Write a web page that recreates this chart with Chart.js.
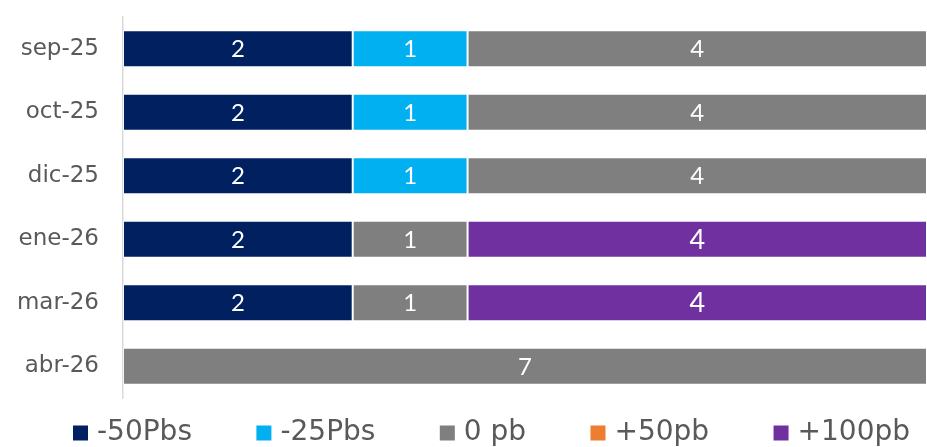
<!DOCTYPE html>
<html>
<head>
<meta charset="utf-8">
<script src="https://cdn.jsdelivr.net/npm/chart.js@4.4.1/dist/chart.umd.min.js"></script>
<style>
  html, body { margin: 0; padding: 0; background: #fff; }
  #wrap { width: 927px; height: 447px; position: relative; }
</style>
</head>
<body>
<div id="wrap"><canvas id="grafico"></canvas></div>
<script>
// fechas de reunion y votos por escenario
const labels = ["sep-25", "oct-25", "dic-25", "ene-26", "mar-26", "abr-26"];
const menos50 = [2, 2, 2, 2, 2, 0];
const menos25 = [1, 1, 1, 0, 0, 0];
const cero = [4, 4, 4, 1, 1, 7];
const mas50 = [0, 0, 0, 0, 0, 0];
const mas100 = [0, 0, 0, 4, 4, 0];

const fuenteEje = "'DejaVu Sans', sans-serif";
const fuenteNum = "Lato, 'Open Sans', sans-serif";

// escribe el valor dentro de cada segmento
const etiquetas = {
  id: "etiquetas",
  afterDatasetsDraw(chart) {
    const ctx = chart.ctx;
    ctx.save();
    ctx.fillStyle = "#ffffff";
    ctx.textAlign = "center";
    ctx.textBaseline = "middle";
    chart.data.datasets.forEach((ds, i) => {
      const meta = chart.getDatasetMeta(i);
      if (meta.hidden) return;
      ctx.font = (ds.tamLetra || 24) + "px " + fuenteNum;
      meta.data.forEach((bar, j) => {
        const v = ds.data[j];
        if (!v) return;
        const p = bar.getProps(["x", "y", "base"], true);
        ctx.fillText(v, (p.x + p.base) / 2, p.y + 1);
      });
    });
    ctx.restore();
  }
};

// leyenda abajo, repartida entre x=73 y x=910
const leyenda = {
  id: "leyenda",
  afterDraw(chart) {
    const ctx = chart.ctx;
    const ds = chart.data.datasets;
    ctx.save();
    ctx.font = "28px " + fuenteEje;
    ctx.textBaseline = "middle";
    const caja = 15, sep = 9;
    const anchos = ds.map(d => caja + sep + ctx.measureText(d.label).width);
    const total = anchos.reduce((a, b) => a + b, 0);
    const hueco = (910 - 73 - total) / (ds.length - 1);
    const y = 433;
    let x = 73;
    ds.forEach((d, i) => {
      ctx.fillStyle = d.backgroundColor;
      ctx.fillRect(x, y - caja / 2, caja, caja);
      ctx.fillStyle = "#595959";
      ctx.fillText(d.label, x + caja + sep, y);
      x += anchos[i] + hueco;
    });
    ctx.restore();
  }
};

function serie(nombre, valores, color, tam) {
  return {
    label: nombre,
    data: valores,
    backgroundColor: color,
    borderColor: "rgba(255,255,255,0.55)",
    borderWidth: 1,
    borderSkipped: false,
    tamLetra: tam
  };
}

new Chart(document.getElementById("grafico"), {
  type: "bar",
  data: {
    labels: labels,
    datasets: [
      serie("-50Pbs", menos50, "#002060", 24),
      serie("-25Pbs", menos25, "#00B0F0", 24),
      serie("0 pb", cero, "#7F7F7F", 24),
      serie("+50pb", mas50, "#ED7D31", 24),
      serie("+100pb", mas100, "#7030A0", 27)
    ]
  },
  options: {
    indexAxis: "y",
    responsive: true,
    maintainAspectRatio: false,
    animation: false,
    layout: { padding: { top: 17, right: 0, bottom: 49, left: 0 } },
    datasets: { bar: { categoryPercentage: 0.58, barPercentage: 1 } },
    scales: {
      x: { stacked: true, display: false, min: 0, max: 7 },
      y: {
        stacked: true,
        grid: { display: false, drawTicks: false },
        border: { display: true, color: "#D9D9D9", width: 1.5 },
        ticks: { color: "#595959", padding: 24, font: { family: fuenteEje, size: 23 } },
        afterFit(scale) {
          scale.width = 123;
          scale.paddingTop = 0;
          scale.paddingBottom = 0;
        }
      }
    },
    plugins: {
      tooltip: { enabled: false },
      legend: { display: false }
    }
  },
  plugins: [etiquetas, leyenda]
});
</script>
</body>
</html>
